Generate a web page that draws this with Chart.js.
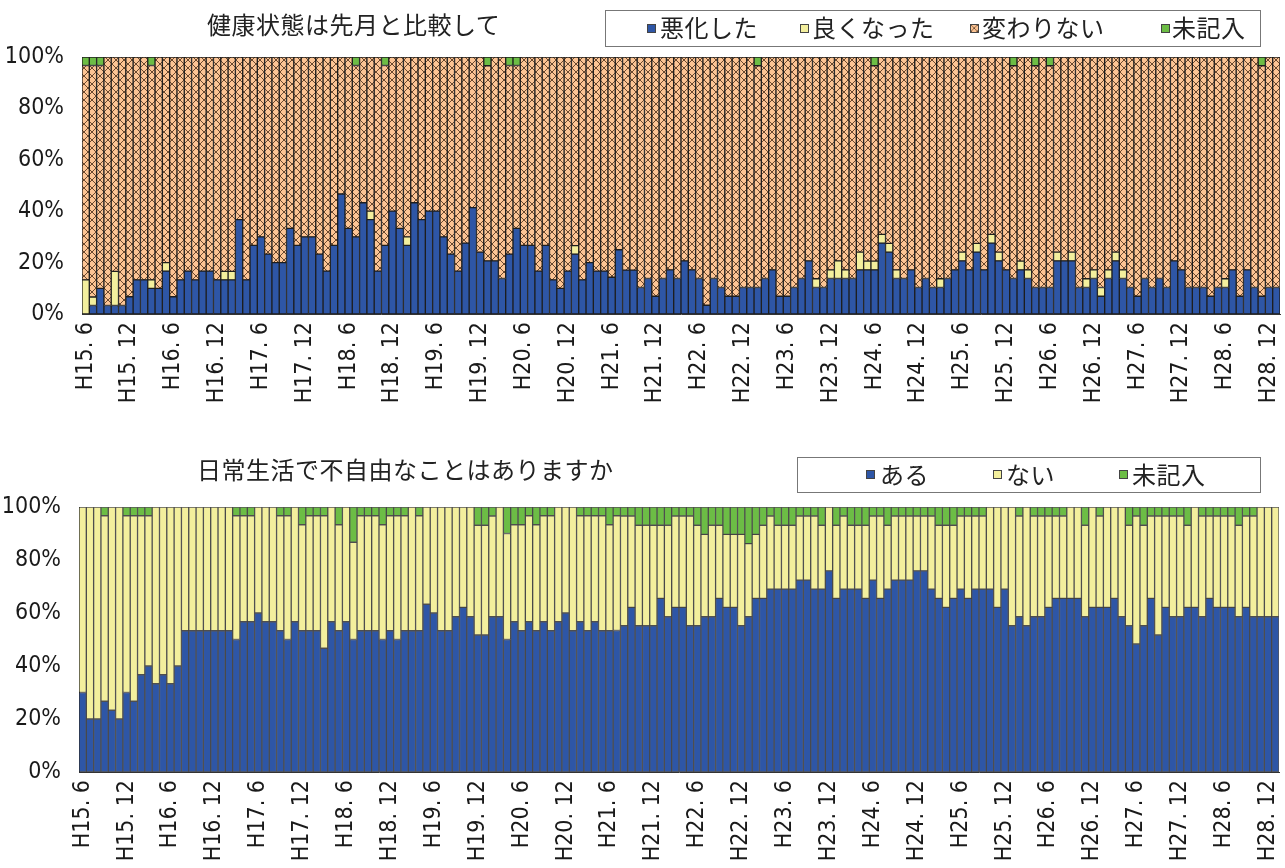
<!DOCTYPE html>
<html lang="ja">
<head>
<meta charset="utf-8">
<title>健康状態と日常生活</title>
<script src="https://cdn.jsdelivr.net/npm/chart.js@4.4.1/dist/chart.umd.min.js"></script>
<style>
  body { margin: 0; background: #fff; }
  #wrap { position: relative; width: 1285px; height: 868px; overflow: hidden; background: #fff; }
  #wrap canvas.chart { position: absolute; left: 0; }
  .ttl, .lg-text {
    position: absolute; white-space: nowrap; color: #222;
    font-family: "Noto Sans CJK JP", sans-serif; font-size: 24px; line-height: 24px;
    letter-spacing: 0.5px;
  }
  .lg-box { position: absolute; border: 1px solid #777; box-sizing: border-box; background: #fff; }
  .sw { position: absolute; width: 9px; height: 9px; box-sizing: border-box; border: 1px solid #444; }
</style>
</head>
<body>
<div id="wrap">
  <canvas id="chartHealth" class="chart" width="1285" height="415" style="top:0"></canvas>
  <canvas id="chartDaily" class="chart" width="1285" height="438" style="top:430px"></canvas>

  <!-- 上のグラフ: タイトルと凡例 -->
  <div class="ttl" style="left:207px; top:12px;">健康状態は先月と比較して</div>
  <div class="lg-box" style="left:605px; top:10px; width:656px; height:37px;"></div>
  <div class="sw" style="left:647px; top:24px; background:#2E56A6;"></div>
  <div class="lg-text" style="left:660px; top:15px;">悪化した</div>
  <div class="sw" style="left:800px; top:24px; background:#F3EF9D;"></div>
  <div class="lg-text" style="left:812px; top:15px;">良くなった</div>
  <canvas id="hatchSwatch" class="sw" width="9" height="9" style="left:970px; top:24px;"></canvas>
  <div class="lg-text" style="left:982px; top:15px;">変わりない</div>
  <div class="sw" style="left:1161px; top:24px; background:#6CBD45;"></div>
  <div class="lg-text" style="left:1172px; top:15px;">未記入</div>

  <!-- 下のグラフ: タイトルと凡例 -->
  <div class="ttl" style="left:197px; top:457px;">日常生活で不自由なことはありますか</div>
  <div class="lg-box" style="left:797px; top:457px; width:464px; height:36px;"></div>
  <div class="sw" style="left:866px; top:470px; background:#2E56A6;"></div>
  <div class="lg-text" style="left:880px; top:462px;">ある</div>
  <div class="sw" style="left:993px; top:470px; background:#F3EF9D;"></div>
  <div class="lg-text" style="left:1006px; top:462px;">ない</div>
  <div class="sw" style="left:1119px; top:470px; background:#6CBD45;"></div>
  <div class="lg-text" style="left:1132px; top:462px;">未記入</div>
</div>

<script>
// ===== 月 (H15.6 〜 H29.1) =====
const months = [
  "H15. 6", "H15. 7", "H15. 8", "H15. 9", "H15. 10", "H15. 11", "H15. 12",
  "H16. 1", "H16. 2", "H16. 3", "H16. 4", "H16. 5", "H16. 6", "H16. 7", "H16. 8", "H16. 9", "H16. 10", "H16. 11", "H16. 12",
  "H17. 1", "H17. 2", "H17. 3", "H17. 4", "H17. 5", "H17. 6", "H17. 7", "H17. 8", "H17. 9", "H17. 10", "H17. 11", "H17. 12",
  "H18. 1", "H18. 2", "H18. 3", "H18. 4", "H18. 5", "H18. 6", "H18. 7", "H18. 8", "H18. 9", "H18. 10", "H18. 11", "H18. 12",
  "H19. 1", "H19. 2", "H19. 3", "H19. 4", "H19. 5", "H19. 6", "H19. 7", "H19. 8", "H19. 9", "H19. 10", "H19. 11", "H19. 12",
  "H20. 1", "H20. 2", "H20. 3", "H20. 4", "H20. 5", "H20. 6", "H20. 7", "H20. 8", "H20. 9", "H20. 10", "H20. 11", "H20. 12",
  "H21. 1", "H21. 2", "H21. 3", "H21. 4", "H21. 5", "H21. 6", "H21. 7", "H21. 8", "H21. 9", "H21. 10", "H21. 11", "H21. 12",
  "H22. 1", "H22. 2", "H22. 3", "H22. 4", "H22. 5", "H22. 6", "H22. 7", "H22. 8", "H22. 9", "H22. 10", "H22. 11", "H22. 12",
  "H23. 1", "H23. 2", "H23. 3", "H23. 4", "H23. 5", "H23. 6", "H23. 7", "H23. 8", "H23. 9", "H23. 10", "H23. 11", "H23. 12",
  "H24. 1", "H24. 2", "H24. 3", "H24. 4", "H24. 5", "H24. 6", "H24. 7", "H24. 8", "H24. 9", "H24. 10", "H24. 11", "H24. 12",
  "H25. 1", "H25. 2", "H25. 3", "H25. 4", "H25. 5", "H25. 6", "H25. 7", "H25. 8", "H25. 9", "H25. 10", "H25. 11", "H25. 12",
  "H26. 1", "H26. 2", "H26. 3", "H26. 4", "H26. 5", "H26. 6", "H26. 7", "H26. 8", "H26. 9", "H26. 10", "H26. 11", "H26. 12",
  "H27. 1", "H27. 2", "H27. 3", "H27. 4", "H27. 5", "H27. 6", "H27. 7", "H27. 8", "H27. 9", "H27. 10", "H27. 11", "H27. 12",
  "H28. 1", "H28. 2", "H28. 3", "H28. 4", "H28. 5", "H28. 6", "H28. 7", "H28. 8", "H28. 9", "H28. 10", "H28. 11", "H28. 12",
  "H29. 1"
];

const yTicks = [0, 20, 40, 60, 80, 100];

// ===== 健康状態は先月と比較して (%) =====
const worseVals = [
  0, 3.3, 10, 3.3, 3.3, 3.3, 6.7, 13.3, 13.3, 10, 10, 16.7, 6.7, 13.3, 16.7, 13.3, 16.7, 16.7, 13.3, 13.3,
  13.3, 36.7, 13.3, 26.7, 30, 23.3, 20, 20, 33.3, 26.7, 30, 30, 23.3, 16.7, 26.7, 46.7, 33.3, 30, 43.3, 36.7,
  16.7, 26.7, 40, 33.3, 26.7, 43.3, 36.7, 40, 40, 30, 23.3, 16.7, 27.6, 41.4, 24.1, 20.7, 20.7, 13.8, 23.3, 33.3,
  26.7, 26.7, 16.7, 26.7, 13.3, 10, 16.7, 23.3, 13.3, 20, 16.7, 16.7, 14.3, 25, 17.1, 17.1, 10.3, 13.8, 6.9, 13.8,
  17.2, 13.8, 20.7, 17.2, 13.8, 3.4, 13.8, 10.3, 6.9, 6.9, 10.3, 10.3, 10.3, 13.8, 17.2, 6.9, 6.9, 10.3, 13.8, 20.7,
  10.3, 10.3, 13.8, 13.8, 13.8, 13.8, 17.2, 17.2, 17.2, 27.6, 24.1, 13.8, 13.8, 17.2, 10.3, 13.8, 10.3, 10.3, 13.8, 17.2,
  20.7, 17.2, 24.1, 17.2, 27.6, 20.7, 17.2, 13.8, 17.2, 13.8, 10.3, 10.3, 10.3, 20.7, 20.7, 20.7, 10.3, 10.3, 13.8, 6.9,
  13.8, 20.7, 13.8, 10.3, 6.9, 13.8, 10.3, 13.8, 10.3, 20.7, 17.2, 10.3, 10.3, 10.3, 6.9, 10.3, 10.3, 17.2, 6.9, 17.2,
  10.3, 6.9, 10.3, 10.3
];
const betterVals = [
  13.3, 3.3, 0, 0, 13.3, 0, 0, 0, 0, 3.3, 0, 3.3, 0, 0, 0, 0, 0, 0, 0, 3.3,
  3.3, 0, 0, 0, 0, 0, 0, 0, 0, 0, 0, 0, 0, 0, 0, 0, 0, 0, 0, 3.3,
  0, 0, 0, 0, 3.3, 0, 0, 0, 0, 0, 0, 0, 0, 0, 0, 0, 0, 0, 0, 0,
  0, 0, 0, 0, 0, 0, 0, 3.3, 0, 0, 0, 0, 0, 0, 0, 0, 0, 0, 0, 0,
  0, 0, 0, 0, 0, 0, 0, 0, 0, 0, 0, 0, 0, 0, 0, 0, 0, 0, 0, 0,
  3.4, 0, 3.4, 6.9, 3.4, 0, 6.9, 3.4, 3.4, 3.4, 3.4, 3.4, 0, 0, 0, 0, 0, 3.4, 0, 0,
  3.4, 0, 3.4, 0, 3.4, 3.4, 0, 0, 3.4, 3.4, 0, 0, 0, 3.4, 0, 3.4, 0, 3.4, 3.4, 3.4,
  3.4, 3.4, 3.4, 0, 0, 0, 0, 0, 0, 0, 0, 0, 0, 0, 0, 0, 3.4, 0, 0, 0,
  0, 0, 0, 0
];
const sameVals = [
  83.4, 90.1, 86.7, 96.7, 83.4, 96.7, 93.3, 86.7, 86.7, 83.4, 90, 80, 93.3, 86.7, 83.3, 86.7, 83.3, 83.3, 86.7, 83.4,
  83.4, 63.3, 86.7, 73.3, 70, 76.7, 80, 80, 66.7, 73.3, 70, 70, 76.7, 83.3, 73.3, 53.3, 66.7, 66.7, 56.7, 60,
  83.3, 70, 60, 66.7, 70, 56.7, 63.3, 60, 60, 70, 76.7, 83.3, 72.4, 58.6, 75.9, 75.9, 79.3, 86.2, 73.4, 63.4,
  73.3, 73.3, 83.3, 73.3, 86.7, 90, 83.3, 73.4, 86.7, 80, 83.3, 83.3, 85.7, 75, 82.9, 82.9, 89.7, 86.2, 93.1, 86.2,
  82.8, 86.2, 79.3, 82.8, 86.2, 96.6, 86.2, 89.7, 93.1, 93.1, 89.7, 89.7, 86.3, 86.2, 82.8, 93.1, 93.1, 89.7, 86.2, 79.3,
  86.3, 89.7, 82.8, 79.3, 82.8, 86.2, 75.9, 79.4, 76, 69, 72.5, 82.8, 86.2, 82.8, 89.7, 86.2, 89.7, 86.3, 86.2, 82.8,
  75.9, 82.8, 72.5, 82.8, 69, 75.9, 82.8, 82.8, 79.4, 82.8, 86.3, 89.7, 86.3, 75.9, 79.3, 75.9, 89.7, 86.3, 82.8, 89.7,
  82.8, 75.9, 82.8, 89.7, 93.1, 86.2, 89.7, 86.2, 89.7, 79.3, 82.8, 89.7, 89.7, 89.7, 93.1, 89.7, 86.3, 82.8, 93.1, 82.8,
  89.7, 89.7, 89.7, 89.7
];
const blankVals1 = [
  3.3, 3.3, 3.3, 0, 0, 0, 0, 0, 0, 3.3, 0, 0, 0, 0, 0, 0, 0, 0, 0, 0,
  0, 0, 0, 0, 0, 0, 0, 0, 0, 0, 0, 0, 0, 0, 0, 0, 0, 3.3, 0, 0,
  0, 3.3, 0, 0, 0, 0, 0, 0, 0, 0, 0, 0, 0, 0, 0, 3.4, 0, 0, 3.3, 3.3,
  0, 0, 0, 0, 0, 0, 0, 0, 0, 0, 0, 0, 0, 0, 0, 0, 0, 0, 0, 0,
  0, 0, 0, 0, 0, 0, 0, 0, 0, 0, 0, 0, 3.4, 0, 0, 0, 0, 0, 0, 0,
  0, 0, 0, 0, 0, 0, 0, 0, 3.4, 0, 0, 0, 0, 0, 0, 0, 0, 0, 0, 0,
  0, 0, 0, 0, 0, 0, 0, 3.4, 0, 0, 3.4, 0, 3.4, 0, 0, 0, 0, 0, 0, 0,
  0, 0, 0, 0, 0, 0, 0, 0, 0, 0, 0, 0, 0, 0, 0, 0, 0, 0, 0, 0,
  0, 3.4, 0, 0
];

// ===== 日常生活で不自由なことはありますか (%) =====
const yesVals = [
  30, 20, 20, 26.7, 23.3, 20, 30, 26.7, 36.7, 40, 33.3, 36.7, 33.3, 40, 53.3, 53.3, 53.3, 53.3, 53.3, 53.3,
  53.3, 50, 56.7, 56.7, 60, 56.7, 56.7, 53.3, 50, 56.7, 53.3, 53.3, 53.3, 46.7, 56.7, 53.3, 56.7, 50, 53.3, 53.3,
  53.3, 50, 53.3, 50, 53.3, 53.3, 53.3, 63.3, 60, 53.3, 53.3, 58.6, 62.1, 58.6, 51.7, 51.7, 58.6, 58.6, 50, 56.7,
  53.3, 56.7, 53.3, 56.7, 53.3, 56.7, 60, 53.3, 56.7, 53.3, 56.7, 53.3, 53.3, 53.4, 55.2, 62.1, 55.2, 55.2, 55.2, 65.5,
  58.6, 62.1, 62.1, 55.2, 55.2, 58.6, 58.6, 65.5, 62.1, 62.1, 55.2, 58.6, 65.5, 65.5, 69, 69, 69, 69, 72.4, 72.4,
  69, 69, 75.9, 65.5, 69, 69, 69, 65.5, 72.4, 65.5, 69, 72.4, 72.4, 72.4, 75.9, 75.9, 69, 65.5, 62.1, 65.5,
  69, 65.5, 69, 69, 69, 62.1, 69, 55.2, 58.6, 55.2, 58.6, 58.6, 62.1, 65.5, 65.5, 65.5, 65.5, 58.6, 62.1, 62.1,
  62.1, 65.5, 58.6, 55.2, 48.3, 55.2, 65.5, 51.7, 62.1, 58.6, 58.6, 62.1, 62.1, 58.6, 65.5, 62.1, 62.1, 62.1, 58.6, 62.1,
  58.6, 58.6, 58.6, 58.6
];
const noVals = [
  70, 80, 80, 70, 76.7, 80, 66.7, 70, 60, 56.7, 66.7, 63.3, 66.7, 60, 46.7, 46.7, 46.7, 46.7, 46.7, 46.7,
  46.7, 46.7, 40, 40, 40, 43.3, 43.3, 43.4, 46.7, 43.3, 40, 43.4, 43.4, 50, 43.3, 40, 43.3, 36.7, 43.4, 43.4,
  43.4, 43.3, 43.4, 46.7, 43.4, 46.7, 43.4, 36.7, 40, 46.7, 46.7, 41.4, 37.9, 41.4, 41.4, 41.4, 38, 41.4, 40, 36.6,
  40, 40, 40, 40, 43.4, 43.3, 40, 46.7, 40, 43.4, 40, 43.4, 40, 43.3, 41.4, 34.5, 37.9, 37.9, 37.9, 27.6,
  34.5, 34.5, 34.5, 41.4, 37.9, 31.1, 34.5, 27.6, 27.6, 27.6, 34.5, 27.6, 24.2, 27.6, 27.6, 24.1, 24.1, 24.1, 24.2, 24.2,
  27.6, 24.1, 24.1, 27.6, 27.6, 24.1, 24.1, 27.6, 24.2, 31.1, 24.1, 24.2, 24.2, 24.2, 20.7, 20.7, 27.6, 27.6, 31, 27.6,
  27.6, 31.1, 27.6, 27.6, 31, 37.9, 31, 44.8, 38, 44.8, 38, 38, 34.5, 31.1, 31.1, 34.5, 34.5, 34.5, 37.9, 34.5,
  37.9, 34.5, 41.4, 37.9, 48.3, 37.9, 31.1, 44.9, 34.5, 38, 38, 31, 37.9, 38, 31.1, 34.5, 34.5, 34.5, 34.5, 34.5,
  38, 41.4, 41.4, 41.4
];
const blankVals2 = [
  0, 0, 0, 3.3, 0, 0, 3.3, 3.3, 3.3, 3.3, 0, 0, 0, 0, 0, 0, 0, 0, 0, 0,
  0, 3.3, 3.3, 3.3, 0, 0, 0, 3.3, 3.3, 0, 6.7, 3.3, 3.3, 3.3, 0, 6.7, 0, 13.3, 3.3, 3.3,
  3.3, 6.7, 3.3, 3.3, 3.3, 0, 3.3, 0, 0, 0, 0, 0, 0, 0, 6.9, 6.9, 3.4, 0, 10, 6.7,
  6.7, 3.3, 6.7, 3.3, 3.3, 0, 0, 0, 3.3, 3.3, 3.3, 3.3, 6.7, 3.3, 3.4, 3.4, 6.9, 6.9, 6.9, 6.9,
  6.9, 3.4, 3.4, 3.4, 6.9, 10.3, 6.9, 6.9, 10.3, 10.3, 10.3, 13.8, 10.3, 6.9, 3.4, 6.9, 6.9, 6.9, 3.4, 3.4,
  3.4, 6.9, 0, 6.9, 3.4, 6.9, 6.9, 6.9, 3.4, 3.4, 6.9, 3.4, 3.4, 3.4, 3.4, 3.4, 3.4, 6.9, 6.9, 6.9,
  3.4, 3.4, 3.4, 3.4, 0, 0, 0, 0, 3.4, 0, 3.4, 3.4, 3.4, 3.4, 3.4, 0, 0, 6.9, 0, 3.4,
  0, 0, 0, 6.9, 3.4, 6.9, 3.4, 3.4, 3.4, 3.4, 3.4, 6.9, 0, 3.4, 3.4, 3.4, 3.4, 3.4, 6.9, 3.4,
  3.4, 0, 0, 0
];

// ===== 色 =====
const BLUE = "#2E56A6";
const YELLOW = "#F3EF9D";
const ORANGE = "#FCC494";
const GREEN = "#6CBD45";

// ===== 斜線パターン (変わりない) =====
function makeHatch(ctx) {
  const tile = document.createElement("canvas");
  tile.width = 8;
  tile.height = 8;
  const g = tile.getContext("2d");
  g.fillStyle = ORANGE;
  g.fillRect(0, 0, 8, 8);
  g.strokeStyle = "rgba(80,50,28,0.85)";
  g.lineWidth = 1;
  g.beginPath();
  g.moveTo(0, 0); g.lineTo(8, 8);
  g.moveTo(8, 0); g.lineTo(0, 8);
  g.stroke();
  return ctx.createPattern(tile, "repeat");
}

// 凡例の見本
const sw = document.getElementById("hatchSwatch");
const swCtx = sw.getContext("2d");
swCtx.fillStyle = makeHatch(swCtx);
swCtx.fillRect(0, 0, 9, 9);

// ===== 共通の軸設定 =====
const tickFont = { family: "'Liberation Sans Narrow', 'DejaVu Sans Condensed', 'Liberation Sans', sans-serif", size: 23 };

function buildScales(axisW, axisH) {
  return {
    x: {
      stacked: true,
      grid: { display: false, drawTicks: false },
      border: { display: true, color: "#333", width: 1 },
      ticks: {
        autoSkip: false,
        minRotation: 90,
        maxRotation: 90,
        padding: 8,
        color: "#1a1a1a",
        font: tickFont,
        callback: (v, i) => (i % 6 === 0 ? months[i] : ""),
      },
      afterFit: (s) => {
        s.height = axisH;
        // 回転ラベル分の左右余白は不要
        s.paddingLeft = 0;
        s.paddingRight = 0;
      },
    },
    y: {
      stacked: true,
      min: 0,
      max: 100,
      grid: { display: false, drawTicks: false },
      border: { display: true, color: "#333", width: 1 },
      afterBuildTicks: (s) => { s.ticks = yTicks.map((v) => ({ value: v })); },
      ticks: {
        padding: 18,
        color: "#1a1a1a",
        font: tickFont,
        callback: (v) => v + "%",
      },
      afterFit: (s) => { s.width = axisW; },
    },
  };
}

function barSet(label, data, color, border) {
  return {
    label: label,
    data: data,
    backgroundColor: color,
    borderColor: border,
    borderWidth: 1,
    borderSkipped: false,
    barPercentage: 1,
    categoryPercentage: 1,
  };
}

// ===== 上: 健康状態は先月と比較して =====
const c1 = document.getElementById("chartHealth");
const ctx1 = c1.getContext("2d");
const edge1 = "#1e1e1e";
new Chart(ctx1, {
  type: "bar",
  data: {
    labels: months,
    datasets: [
      barSet("悪化した", worseVals, BLUE, edge1),
      barSet("良くなった", betterVals, YELLOW, edge1),
      barSet("変わりない", sameVals, makeHatch(ctx1), edge1),
      barSet("未記入", blankVals1, GREEN, edge1),
    ],
  },
  options: {
    responsive: false,
    animation: false,
    layout: { padding: { top: 57, right: 5, left: 0, bottom: 0 } },
    plugins: { legend: { display: false }, tooltip: { enabled: false }, title: { display: false } },
    scales: buildScales(82, 101),
  },
});

// ===== 下: 日常生活で不自由なことはありますか =====
const ctx2 = document.getElementById("chartDaily").getContext("2d");
const edge2 = "rgba(45,45,45,0.8)";
new Chart(ctx2, {
  type: "bar",
  data: {
    labels: months,
    datasets: [
      barSet("ある", yesVals, BLUE, edge2),
      barSet("ない", noVals, YELLOW, edge2),
      barSet("未記入", blankVals2, GREEN, edge2),
    ],
  },
  options: {
    responsive: false,
    animation: false,
    layout: { padding: { top: 77, right: 6, left: 0, bottom: 0 } },
    plugins: { legend: { display: false }, tooltip: { enabled: false }, title: { display: false } },
    scales: buildScales(79, 96),
  },
});
</script>
</body>
</html>
